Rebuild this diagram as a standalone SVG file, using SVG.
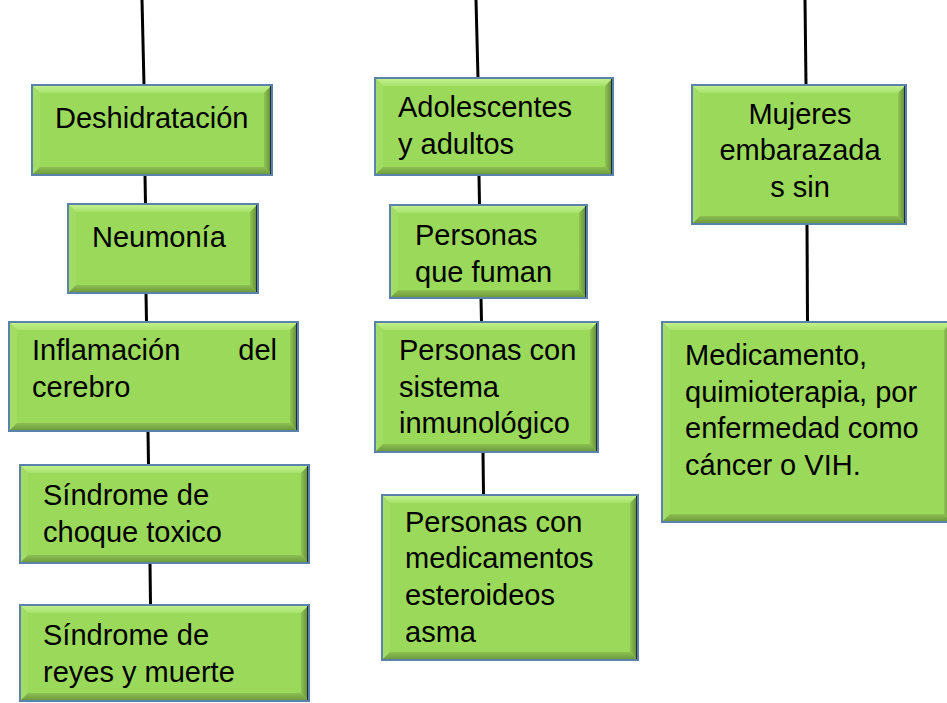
<svg xmlns="http://www.w3.org/2000/svg" width="947" height="703" viewBox="0 0 947 703">
<defs>
<linearGradient id="gTop" x1="0" y1="0" x2="0" y2="1"><stop offset="0" stop-color="#c4f290"/><stop offset="1" stop-color="#a8e26c"/></linearGradient>
<linearGradient id="gBot" x1="0" y1="0" x2="0" y2="1"><stop offset="0" stop-color="#8cc052"/><stop offset="1" stop-color="#6a963a"/></linearGradient>
<linearGradient id="gRight" x1="0" y1="0" x2="1" y2="0"><stop offset="0" stop-color="#8fc454"/><stop offset="1" stop-color="#5c8532"/></linearGradient>
<linearGradient id="gLeft" x1="0" y1="0" x2="1" y2="0"><stop offset="0" stop-color="#a4dc68"/><stop offset="1" stop-color="#a0dc62"/></linearGradient>
</defs>
<style>
.face{fill:#9bd95b}
.t{fill:url(#gTop)}
.b{fill:url(#gBot)}
.r{fill:url(#gRight)}
.l{fill:url(#gLeft)}
.frame{fill:none;stroke:#5a82aa;stroke-width:2}
.shade{fill:none;stroke:#1e2b38;stroke-width:2}
.lbl{font-family:"Liberation Sans",Arial,sans-serif;font-size:29px;fill:#000}
.conn line{stroke:#000;stroke-width:3}
</style>
<rect width="947" height="703" fill="#fff"/>
<g class="conn" id="connectors">
<line x1="142" y1="0" x2="144" y2="85"/>
<line x1="145" y1="175" x2="145.5" y2="204"/>
<line x1="146" y1="293" x2="146.5" y2="322"/>
<line x1="148" y1="431" x2="148.5" y2="465"/>
<line x1="150" y1="563" x2="150.5" y2="605"/>
<line x1="476" y1="0" x2="478" y2="78"/>
<line x1="479" y1="175" x2="479.5" y2="205"/>
<line x1="481" y1="298" x2="481.5" y2="322"/>
<line x1="483" y1="452" x2="483.5" y2="495"/>
<line x1="805" y1="0" x2="806" y2="85"/>
<line x1="807" y1="224" x2="807.5" y2="322"/>
</g>
<g id="n-deshidratacion">
<rect class="face" x="32" y="85" width="240" height="90"/>
<path class="t" d="M32,85H272L264,93H40Z"/><path class="l" d="M32,85L40,93V167L32,175Z"/><path class="r" d="M272,85V175L264,167V93Z"/><path class="b" d="M32,175H272L264,167H40Z"/>
<line class="shade" x1="271" y1="86" x2="271" y2="174"/><rect class="frame" x="32" y="85" width="240" height="90"/>
<text class="lbl" x="55" y="128">Deshidratación</text>
</g>
<g id="n-neumonia">
<rect class="face" x="68" y="204" width="190" height="89"/>
<path class="t" d="M68,204H258L250,212H76Z"/><path class="l" d="M68,204L76,212V285L68,293Z"/><path class="r" d="M258,204V293L250,285V212Z"/><path class="b" d="M68,293H258L250,285H76Z"/>
<line class="shade" x1="257" y1="205" x2="257" y2="292"/><rect class="frame" x="68" y="204" width="190" height="89"/>
<text class="lbl" x="92" y="247">Neumonía</text>
</g>
<g id="n-inflamacion">
<rect class="face" x="9" y="322" width="289" height="109"/>
<path class="t" d="M9,322H298L290,330H17Z"/><path class="l" d="M9,322L17,330V423L9,431Z"/><path class="r" d="M298,322V431L290,423V330Z"/><path class="b" d="M9,431H298L290,423H17Z"/>
<line class="shade" x1="297" y1="323" x2="297" y2="430"/><rect class="frame" x="9" y="322" width="289" height="109"/>
<text class="lbl" y="360"><tspan x="32">Inflamación</tspan><tspan x="277" text-anchor="end">del</tspan></text>
<text class="lbl" x="32" y="397">cerebro</text>
</g>
<g id="n-choque">
<rect class="face" x="20" y="465" width="289" height="98"/>
<path class="t" d="M20,465H309L301,473H28Z"/><path class="l" d="M20,465L28,473V555L20,563Z"/><path class="r" d="M309,465V563L301,555V473Z"/><path class="b" d="M20,563H309L301,555H28Z"/>
<line class="shade" x1="308" y1="466" x2="308" y2="562"/><rect class="frame" x="20" y="465" width="289" height="98"/>
<text class="lbl" x="43" y="505">Síndrome de</text>
<text class="lbl" x="43" y="542">choque toxico</text>
</g>
<g id="n-reyes">
<rect class="face" x="20" y="605" width="289" height="96"/>
<path class="t" d="M20,605H309L301,613H28Z"/><path class="l" d="M20,605L28,613V693L20,701Z"/><path class="r" d="M309,605V701L301,693V613Z"/><path class="b" d="M20,701H309L301,693H28Z"/>
<line class="shade" x1="308" y1="606" x2="308" y2="700"/><rect class="frame" x="20" y="605" width="289" height="96"/>
<text class="lbl" x="43" y="645">Síndrome de</text>
<text class="lbl" x="43" y="682">reyes y muerte</text>
</g>
<g id="n-adolescentes">
<rect class="face" x="375" y="78" width="238" height="97"/>
<path class="t" d="M375,78H613L605,86H383Z"/><path class="l" d="M375,78L383,86V167L375,175Z"/><path class="r" d="M613,78V175L605,167V86Z"/><path class="b" d="M375,175H613L605,167H383Z"/>
<line class="shade" x1="612" y1="79" x2="612" y2="174"/><rect class="frame" x="375" y="78" width="238" height="97"/>
<text class="lbl" x="398" y="117">Adolescentes</text>
<text class="lbl" x="398" y="154">y adultos</text>
</g>
<g id="n-fuman">
<rect class="face" x="390" y="205" width="197" height="93"/>
<path class="t" d="M390,205H587L579,213H398Z"/><path class="l" d="M390,205L398,213V290L390,298Z"/><path class="r" d="M587,205V298L579,290V213Z"/><path class="b" d="M390,298H587L579,290H398Z"/>
<line class="shade" x1="586" y1="206" x2="586" y2="297"/><rect class="frame" x="390" y="205" width="197" height="93"/>
<text class="lbl" x="415" y="245">Personas</text>
<text class="lbl" x="415" y="282">que fuman</text>
</g>
<g id="n-inmunologico">
<rect class="face" x="375" y="322" width="223" height="130"/>
<path class="t" d="M375,322H598L590,330H383Z"/><path class="l" d="M375,322L383,330V444L375,452Z"/><path class="r" d="M598,322V452L590,444V330Z"/><path class="b" d="M375,452H598L590,444H383Z"/>
<line class="shade" x1="597" y1="323" x2="597" y2="451"/><rect class="frame" x="375" y="322" width="223" height="130"/>
<text class="lbl" x="399" y="360">Personas con</text>
<text class="lbl" x="399" y="397">sistema</text>
<text class="lbl" x="399" y="433">inmunológico</text>
</g>
<g id="n-esteroideos">
<rect class="face" x="382" y="495" width="256" height="165"/>
<path class="t" d="M382,495H638L630,503H390Z"/><path class="l" d="M382,495L390,503V652L382,660Z"/><path class="r" d="M638,495V660L630,652V503Z"/><path class="b" d="M382,660H638L630,652H390Z"/>
<line class="shade" x1="637" y1="496" x2="637" y2="659"/><rect class="frame" x="382" y="495" width="256" height="165"/>
<text class="lbl" x="405" y="532">Personas con</text>
<text class="lbl" x="405" y="568">medicamentos</text>
<text class="lbl" x="405" y="605">esteroideos</text>
<text class="lbl" x="405" y="642">asma</text>
</g>
<g id="n-mujeres">
<rect class="face" x="692" y="85" width="214" height="139"/>
<path class="t" d="M692,85H906L898,93H700Z"/><path class="l" d="M692,85L700,93V216L692,224Z"/><path class="r" d="M906,85V224L898,216V93Z"/><path class="b" d="M692,224H906L898,216H700Z"/>
<line class="shade" x1="905" y1="86" x2="905" y2="223"/><rect class="frame" x="692" y="85" width="214" height="139"/>
<text class="lbl" x="800" y="124" text-anchor="middle">Mujeres</text>
<text class="lbl" x="800" y="160" text-anchor="middle">embarazada</text>
<text class="lbl" x="800" y="197" text-anchor="middle">s sin</text>
</g>
<g id="n-medicamento">
<rect class="face" x="662" y="322" width="290" height="200"/>
<path class="t" d="M662,322H952L944,330H670Z"/><path class="l" d="M662,322L670,330V514L662,522Z"/><path class="r" d="M952,322V522L944,514V330Z"/><path class="b" d="M662,522H952L944,514H670Z"/>
<rect class="frame" x="662" y="322" width="290" height="200"/>
<text class="lbl" x="685" y="365">Medicamento,</text>
<text class="lbl" x="685" y="402">quimioterapia, por</text>
<text class="lbl" x="685" y="438">enfermedad como</text>
<text class="lbl" x="685" y="475">cáncer o VIH.</text>
</g>
</svg>
